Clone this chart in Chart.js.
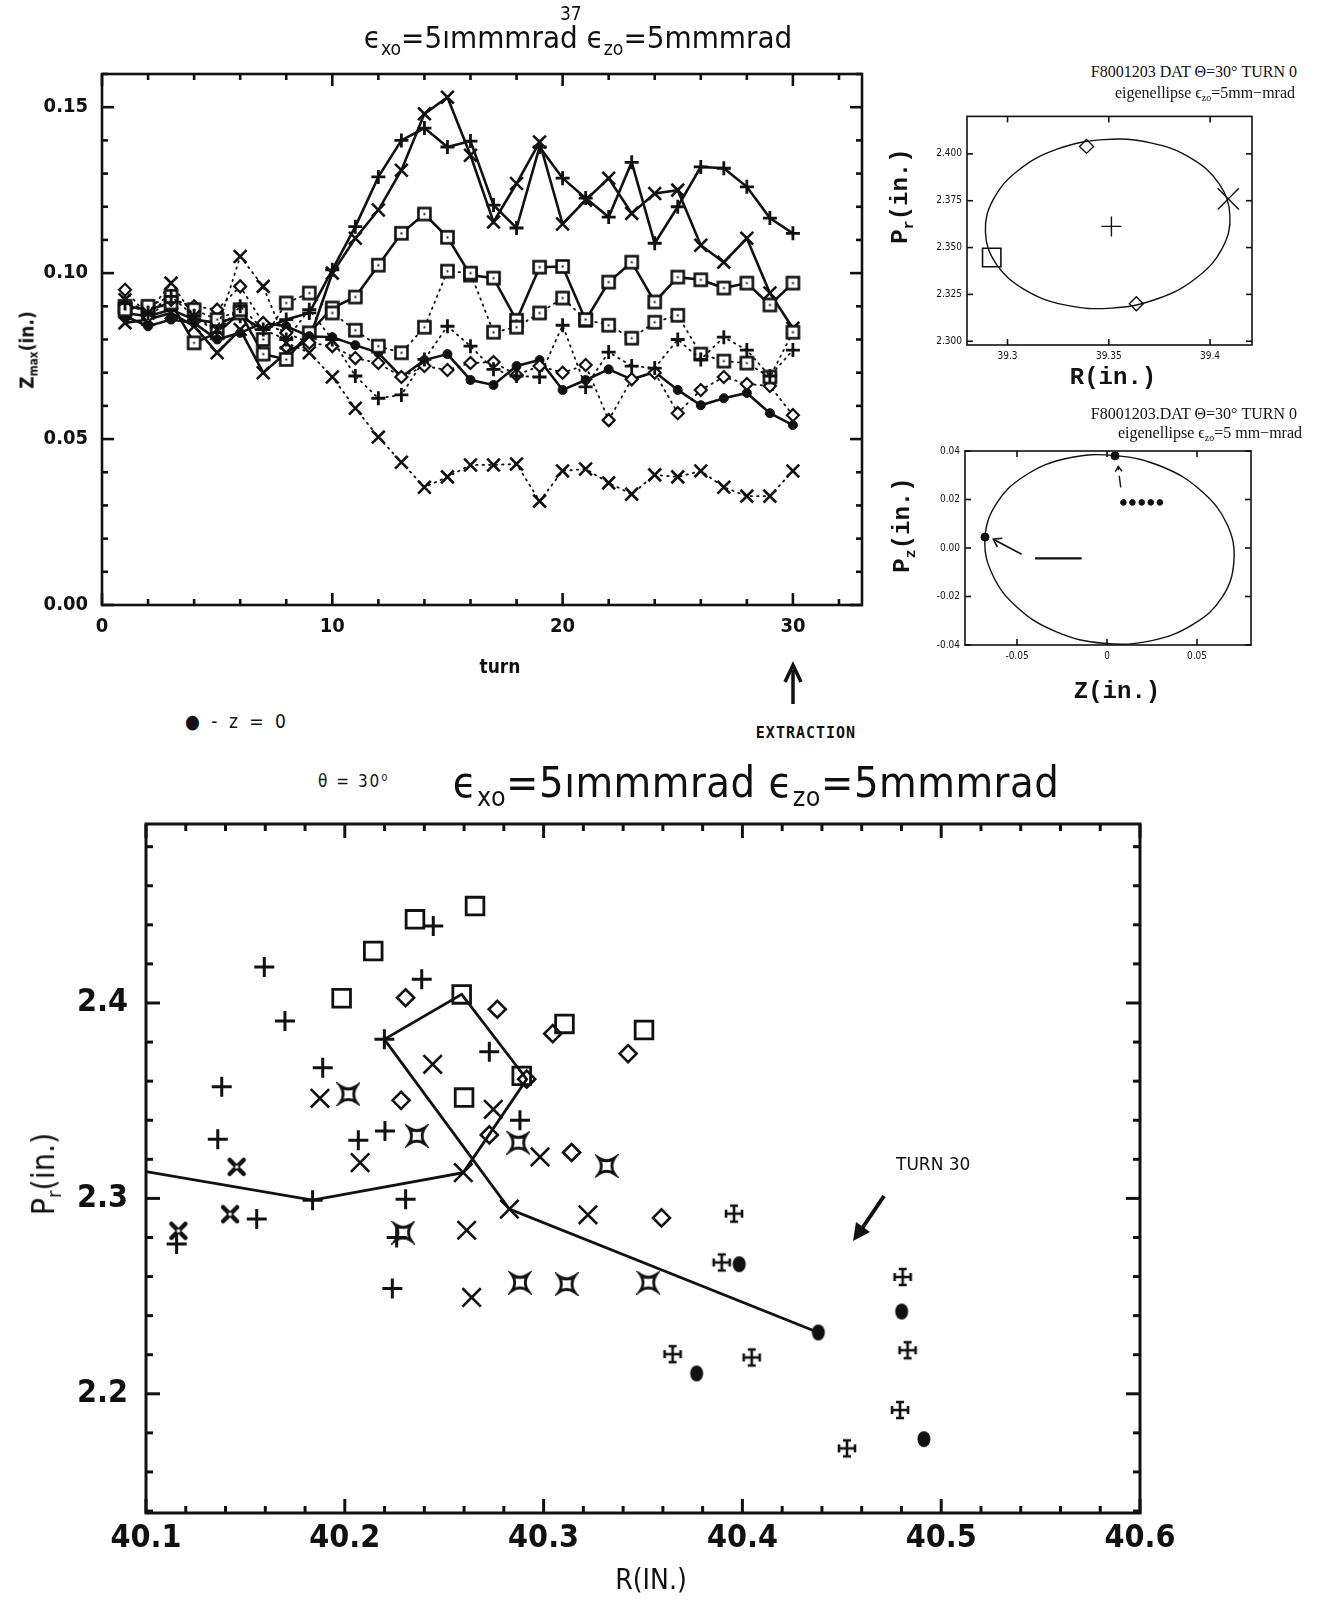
<!DOCTYPE html>
<html><head><meta charset="utf-8">
<script src="https://cdn.jsdelivr.net/npm/chart.js@4.4.1/dist/chart.umd.min.js"></script>
<style>
html,body{margin:0;padding:0;background:#fff}
body{width:1320px;height:1601px;position:relative;overflow:hidden;color:#111;font-family:"DejaVu Sans",sans-serif}
canvas{position:absolute}
.t{position:absolute;white-space:nowrap;line-height:1}
.c{transform:translate(-50%,-50%)}
.r{transform:translate(-50%,-50%) rotate(-90deg)}
.cap{font-family:"DejaVu Sans Condensed","DejaVu Sans",sans-serif}
.serif{font-family:"Liberation Serif",serif}
.mono{font-family:"Liberation Mono",monospace;font-weight:bold}
sub{font-size:62%;vertical-align:-0.35em}
sup{font-size:62%;vertical-align:0.9em}
svg{position:absolute;left:0;top:0}
</style></head><body>
<canvas id="c1" width="880" height="640" style="left:0;top:40px"></canvas>
<canvas id="c2" width="440" height="300" style="left:880px;top:100px"></canvas>
<canvas id="c3" width="440" height="240" style="left:880px;top:440px"></canvas>
<canvas id="c4" width="1320" height="800" style="left:0;top:800px"></canvas>

<div class="t c cap" style="left:578px;top:40px;font-size:31px">ϵ<sub>xo</sub>=5ımmmrad  ϵ<sub>zo</sub>=5mmmrad</div>
<div class="t cap" style="left:560px;top:4px;font-size:19px">37</div>
<div class="t r cap" style="left:29px;top:350px;font-size:19px;font-weight:bold">Z<sub>max</sub>(in.)</div>
<div class="t c cap" style="left:500px;top:666px;font-size:19px;font-weight:bold">turn</div>

<div class="t serif" style="right:23px;top:64px;font-size:16px">F8001203 DAT Θ=30° TURN 0</div>
<div class="t serif" style="right:25px;top:85px;font-size:16px">eigenellipse ϵ<sub>zo</sub>=5mm−mrad</div>
<div class="t r mono" style="left:903px;top:196px;font-size:24px">P<sub>r</sub>(in.)</div>
<div class="t c mono" style="left:1113px;top:378px;font-size:24px">R(in.)</div>

<div class="t serif" style="right:23px;top:406px;font-size:16px">F8001203.DAT Θ=30° TURN 0</div>
<div class="t serif" style="right:18px;top:425px;font-size:16px">eigenellipse ϵ<sub>zo</sub>=5 mm−mrad</div>
<div class="t r mono" style="left:905px;top:525px;font-size:24px">P<sub>z</sub>(in.)</div>
<div class="t c mono" style="left:1117px;top:692px;font-size:24px">Z(in.)</div>

<div class="t c" style="left:806px;top:733px;font-size:15px;letter-spacing:1px;font-weight:bold;font-family:'DejaVu Sans Mono',monospace">EXTRACTION</div>
<div class="t cap" style="left:185px;top:712px;font-size:19px;letter-spacing:3px">● - z = 0</div>
<div class="t cap" style="left:318px;top:773px;font-size:17px;letter-spacing:2px">θ = 30⁰</div>
<div class="t c cap" style="left:756px;top:786px;font-size:43px;letter-spacing:0.5px">ϵ<sub>xo</sub>=5ımmmrad ϵ<sub>zo</sub>=5mmmrad</div>
<div class="t" style="left:896px;top:1156px;font-size:17px;font-family:'DejaVu Sans',sans-serif">TURN 30</div>
<div class="t r cap" style="left:46px;top:1174px;font-size:32px">P<sub>r</sub>(in.)</div>
<div class="t c cap" style="left:651px;top:1580px;font-size:28px">R(IN.)</div>

<svg width="1320" height="1601">
  <line x1="793" y1="704" x2="793" y2="670" stroke="#111" stroke-width="3.5"/>
  <polyline points="785,682 793,665 801,682" fill="none" stroke="#111" stroke-width="3.5"/>
  <line x1="884" y1="1196" x2="861" y2="1230" stroke="#111" stroke-width="4"/>
  <polygon points="853,1241 856,1222 870,1232" fill="#111"/>
</svg>

<script>
// ---------------- Top-left: Zmax vs turn ----------------
const TURNS = [1,2,3,4,5,6,7,8,9,10,11,12,13,14,15,16,17,18,19,20,21,22,23,24,25,26,27,28,29,30];
const PLUS_SOLID = [0.088,0.087,0.089,0.086,0.085,0.087,0.083,0.086,0.088,0.101,0.114,0.129,0.140,0.1437,0.138,0.1398,0.1205,0.1136,0.138,0.1286,0.1226,0.1169,0.1334,0.109,0.120,0.132,0.1316,0.126,0.1166,0.112];
const X_SOLID = [0.085,0.086,0.088,0.084,0.076,0.083,0.070,0.076,0.080,0.100,0.1105,0.119,0.131,0.148,0.153,0.1355,0.1154,0.127,0.1395,0.1148,0.122,0.1286,0.118,0.124,0.125,0.1084,0.1033,0.1105,0.094,0.0834];
const SQ_SOLID = [0.090,0.089,0.091,0.079,0.082,0.088,0.0756,0.074,0.082,0.0895,0.0928,0.1024,0.112,0.1178,0.1108,0.0994,0.0985,0.0858,0.1018,0.102,0.0858,0.0973,0.1033,0.0913,0.0988,0.098,0.0955,0.097,0.0904,0.097];
const DOT_SOLID = [0.087,0.084,0.086,0.085,0.080,0.082,0.085,0.084,0.081,0.0807,0.0783,0.076,0.0687,0.0738,0.0756,0.0678,0.0663,0.072,0.0738,0.0648,0.0678,0.071,0.068,0.0702,0.0648,0.0602,0.0623,0.0639,0.0578,0.0542];
const X_DOTTED = [0.092,0.088,0.097,0.087,0.083,0.105,0.096,0.079,0.076,0.0687,0.0593,0.0506,0.043,0.0355,0.0386,0.0422,0.0422,0.0425,0.0313,0.0404,0.041,0.0368,0.0334,0.0392,0.0386,0.0404,0.0355,0.0328,0.0328,0.0404];
const PLUS_DOTTED = [0.091,0.088,0.093,0.087,0.082,0.090,0.083,0.080,0.089,0.080,0.069,0.0623,0.0633,0.074,0.084,0.078,0.071,0.069,0.0687,0.0843,0.0657,0.0762,0.072,0.0714,0.080,0.074,0.0807,0.0768,0.069,0.0768];
const SQ_DOTTED = [0.089,0.090,0.093,0.089,0.086,0.089,0.080,0.091,0.094,0.088,0.0828,0.078,0.076,0.0837,0.1006,0.100,0.0822,0.0837,0.088,0.0925,0.086,0.0843,0.0804,0.0852,0.0873,0.0756,0.0735,0.0729,0.0687,0.0822];
const DIA_DOTTED = [0.095,0.087,0.092,0.090,0.089,0.096,0.085,0.082,0.079,0.078,0.0744,0.0729,0.0687,0.072,0.0708,0.0729,0.0732,0.0693,0.072,0.070,0.0723,0.0557,0.068,0.070,0.0578,0.0648,0.0687,0.0666,0.066,0.0572];
const TL_X_MAJOR = [0,10,20,30];
const TL_X_MINOR = [2,4,6,8,12,14,16,18,22,24,26,28,32];
const TL_Y_MAJOR = [0,0.05,0.10,0.15];
const TL_Y_MINOR = [0.01,0.02,0.03,0.04,0.06,0.07,0.08,0.09,0.11,0.12,0.13,0.14,0.16];

// ---------------- Top-right 1: Pr vs R eigenellipse (closed loop, read clockwise from the left) ----------------
const ELL_R = [39.2891,39.2930,39.3054,39.3245,39.3475,39.3707,39.3907,39.4045,39.4098,39.4060,39.3935,39.3744,39.3514,39.3282,39.3082,39.2944];
const ELL_PR = [2.3582,2.3757,2.3913,2.4025,2.4076,2.4059,2.3976,2.3840,2.3671,2.3496,2.3340,2.3228,2.3177,2.3194,2.3277,2.3413];
const R1_SQUARE = [{x:39.2922,y:2.3447}];
const R1_DIAMOND = [{x:39.339,y:2.404},{x:39.3636,y:2.320}];
const R1_X = [{x:39.409,y:2.376}];
const R1_CENTER = [{x:39.3513,y:2.3613}];
const TR1_X_MAJOR = [39.3,39.35,39.4];
const TR1_Y_MAJOR = [2.300,2.325,2.350,2.375,2.400];

// ---------------- Top-right 2: Pz vs Z eigenellipse (closed loop) ----------------
const ELL_Z = [-0.0678,-0.0612,-0.0452,-0.0221,0.0047,0.0310,0.0526,0.0667,0.0705,0.0640,0.0480,0.0249,-0.0019,-0.0281,-0.0497,-0.0636];
const ELL_PZ = [0.0041,0.0186,0.0300,0.0370,0.0381,0.0334,0.0234,0.0098,-0.0054,-0.0203,-0.0314,-0.0382,-0.0393,-0.0346,-0.0246,-0.0110];
const Z_DOTS = [{x:-0.0678,y:0.0045},{x:0.0044,y:0.0380}];
const Z_ROW = [{x:0.0091,y:0.0188},{x:0.0141,y:0.0188},{x:0.0193,y:0.0188},{x:0.0243,y:0.0188},{x:0.0294,y:0.0188}];
const Z_BAR = [{x:-0.0400,y:-0.0043},{x:-0.0141,y:-0.0043}];
const Z_ARROW = [{x:-0.0474,y:-0.0026},{x:-0.0632,y:0.0036}];
const Z_DASH = [{x:0.0076,y:0.0250},{x:0.0068,y:0.0298}];
const Z_CARET = [{x:0.0064,y:0.0322},{x:0.0063,y:0.0336}];
const TR2_X_MAJOR = [-0.05,0,0.05];
const TR2_Y_MAJOR = [-0.04,-0.02,0.00,0.02,0.04];

// ---------------- Bottom: Pr vs R(IN.) ----------------
const B_SQUARE = [{x:40.2655,y:2.4496},{x:40.2353,y:2.4428},{x:40.2143,y:2.4266},{x:40.1984,y:2.4024},{x:40.2588,y:2.4044},{x:40.2890,y:2.3627},{x:40.2600,y:2.3516},{x:40.3105,y:2.3893},{x:40.3505,y:2.3862}];
const B_PLUS = [{x:40.2445,y:2.4394},{x:40.1595,y:2.4184},{x:40.2387,y:2.4121},{x:40.1699,y:2.3908},{x:40.2199,y:2.3814},{x:40.2727,y:2.3751},{x:40.1889,y:2.3669},{x:40.1381,y:2.3572},{x:40.2881,y:2.3400},{x:40.1361,y:2.3303},{x:40.2068,y:2.3298},{x:40.2202,y:2.3345},{x:40.1838,y:2.2991},{x:40.1557,y:2.2894},{x:40.2306,y:2.2996},{x:40.2239,y:2.2539},{x:40.1154,y:2.2766},{x:40.2261,y:2.2800}];
const B_X = [{x:40.2442,y:2.3686},{x:40.1875,y:2.3512},{x:40.2747,y:2.3456},{x:40.2077,y:2.3183},{x:40.2982,y:2.3212},{x:40.2596,y:2.3132},{x:40.2828,y:2.2945},{x:40.2613,y:2.2837},{x:40.2638,y:2.2493},{x:40.3223,y:2.2916}];
const B_STAR = [{x:40.2018,y:2.3533},{x:40.2362,y:2.3320},{x:40.2873,y:2.3285},{x:40.2294,y:2.2825},{x:40.2881,y:2.2569},{x:40.3317,y:2.3166},{x:40.3116,y:2.2561},{x:40.3527,y:2.2569}];
const B_BOLDX = [{x:40.1456,y:2.3161},{x:40.1423,y:2.2919},{x:40.1163,y:2.2834}];
const B_DIAMOND = [{x:40.2306,y:2.4027},{x:40.2767,y:2.3968},{x:40.3046,y:2.3843},{x:40.2283,y:2.3502},{x:40.2727,y:2.3325},{x:40.2915,y:2.3610},{x:40.3425,y:2.3741},{x:40.3141,y:2.3235},{x:40.3593,y:2.2900}];
const B_DOT = [{x:40.3984,y:2.2663},{x:40.4382,y:2.2314},{x:40.3770,y:2.2104},{x:40.4801,y:2.2421},{x:40.4913,y:2.1768}];
const B_MALTESE = [{x:40.3958,y:2.2922},{x:40.3896,y:2.2672},{x:40.3649,y:2.2203},{x:40.4047,y:2.2186},{x:40.4806,y:2.2598},{x:40.4831,y:2.2223},{x:40.4793,y:2.1917},{x:40.4526,y:2.1721}];
const B_PATH = [{x:40.1000,y:2.3137},{x:40.1838,y:2.2991},{x:40.2596,y:2.3132},{x:40.2915,y:2.3610},{x:40.2588,y:2.4044},{x:40.2199,y:2.3814},{x:40.2828,y:2.2945},{x:40.4382,y:2.2314}];
const B_X_MAJOR = [40.1,40.2,40.3,40.4,40.5,40.6];
const B_X_MINOR = [40.12,40.14,40.16,40.18,40.22,40.24,40.26,40.28,40.32,40.34,40.36,40.38,40.42,40.44,40.46,40.48,40.52,40.54,40.56,40.58];
const B_Y_MAJOR = [2.2,2.3,2.4];
const B_Y_MINOR = [2.14,2.16,2.18,2.22,2.24,2.26,2.28,2.32,2.34,2.36,2.38,2.42,2.44,2.46,2.48];

// ---------------- helpers ----------------
const INK = '#111';
const frameTicks = {
  id:'frameTicks',
  afterDatasetsDraw(chart, args, o){
    if(!o || !o.xMajor) return;
    const ctx = chart.ctx, a = chart.chartArea, x = chart.scales.x, y = chart.scales.y;
    ctx.save(); ctx.strokeStyle = INK; ctx.lineWidth = o.lw; ctx.lineCap='butt';
    ctx.strokeRect(a.left, a.top, a.right-a.left, a.bottom-a.top);
    const seg=(x1,y1,x2,y2)=>{ctx.beginPath();ctx.moveTo(x1,y1);ctx.lineTo(x2,y2);ctx.stroke();};
    const xs=(vals,len)=>vals.forEach(v=>{const p=x.getPixelForValue(v);seg(p,a.bottom,p,a.bottom-len);seg(p,a.top,p,a.top+len);});
    const ys=(vals,len)=>vals.forEach(v=>{const p=y.getPixelForValue(v);seg(a.left,p,a.left+len,p);seg(a.right,p,a.right-len,p);});
    xs(o.xMajor,o.major); xs(o.xMinor||[],o.minor); ys(o.yMajor,o.major); ys(o.yMinor||[],o.minor);
    ctx.restore();
  }
};
const arrowHeads = {
  id:'arrowHeads',
  afterDatasetsDraw(chart){
    const ctx = chart.ctx;
    chart.data.datasets.forEach((ds,i)=>{
      if(!ds.arrowHead) return;
      const m = chart.getDatasetMeta(i).data; const p=m[m.length-2], q=m[m.length-1];
      const ang = Math.atan2(q.y-p.y, q.x-p.x), L = ds.arrowHead;
      ctx.save(); ctx.strokeStyle=INK; ctx.lineWidth=ds.borderWidth;
      ctx.beginPath(); ctx.moveTo(q.x-L*Math.cos(ang-0.6), q.y-L*Math.sin(ang-0.6)); ctx.lineTo(q.x,q.y);
      ctx.lineTo(q.x-L*Math.cos(ang+0.6), q.y-L*Math.sin(ang+0.6)); ctx.stroke(); ctx.restore();
    });
  }
};
Chart.register(frameTicks, arrowHeads);

// closed smooth loop: wrap one point on each side and hide the two wrap segments
function loopData(xs, ys){
  const n = xs.length, pts = xs.map((v,i)=>({x:v,y:ys[i]}));
  return [pts[n-1], ...pts, pts[0], pts[1]];
}
function loopSegment(n){
  return {borderColor: c => (c.p0DataIndex===0 || c.p0DataIndex===n+1) ? 'rgba(0,0,0,0)' : INK};
}

function mk(size, draw){ const c=document.createElement('canvas'); c.width=c.height=size; const g=c.getContext('2d'); g.strokeStyle=INK; g.fillStyle=INK; draw(g,size/2,size); return c; }
const SQ_DOT = mk(17,(g,c)=>{g.fillStyle='#fff';g.fillRect(2,2,13,13);g.lineWidth=2.6;g.strokeRect(2.5,2.5,12,12);g.fillStyle=INK;g.fillRect(c-1,c-1,2,2);});
const ASTROID = mk(24,(g,c)=>{const r=8;g.lineWidth=2.8;g.lineJoin='miter';g.beginPath();
  g.moveTo(c-r,c-r);g.quadraticCurveTo(c,c-2.5,c+r,c-r);g.quadraticCurveTo(c+2.5,c,c+r,c+r);
  g.quadraticCurveTo(c,c+2.5,c-r,c+r);g.quadraticCurveTo(c-2.5,c,c-r,c-r);g.closePath();g.stroke();});
const BOLDX = mk(22,(g,c)=>{g.lineWidth=4.5;g.lineCap='round';const r=7;g.beginPath();g.moveTo(c-r,c-r);g.lineTo(c+r,c+r);g.moveTo(c+r,c-r);g.lineTo(c-r,c+r);g.stroke();g.fillStyle='#fff';g.fillRect(c-1.5,c-1.5,3,3);});
const MALTESE = mk(22,(g,c)=>{g.lineWidth=2.6;const r=8,b=4;g.beginPath();g.moveTo(c-r,c);g.lineTo(c+r,c);g.moveTo(c,c-r);g.lineTo(c,c+r);
  g.moveTo(c-r,c-b);g.lineTo(c-r,c+b);g.moveTo(c+r,c-b);g.lineTo(c+r,c+b);g.moveTo(c-b,c-r);g.lineTo(c+b,c-r);g.moveTo(c-b,c+r);g.lineTo(c+b,c+r);g.stroke();});
const OVAL = mk(20,(g,c)=>{g.beginPath();g.ellipse(c,c,6.5,8,0,0,Math.PI*2);g.fill();});

function scat(id, o){
  return new Chart(document.getElementById(id), {
    type:'scatter',
    data:{datasets:o.datasets},
    options:{
      responsive:false, animation:false, devicePixelRatio:1,
      layout:{padding:o.pad},
      plugins:{legend:{display:false}, tooltip:{enabled:false}, frameTicks:o.ft},
      elements:{line:{borderColor:INK}, point:{borderColor:INK}},
      scales:{
        x:{type:'linear', min:o.xmin, max:o.xmax, grid:{display:false,drawTicks:false}, border:{display:false},
           ticks:{autoSkip:false, maxRotation:0, padding:o.xpad, font:o.font, color:INK, callback:o.xfmt},
           afterBuildTicks:s=>{s.ticks=o.xt.map(v=>({value:v}));},
           afterFit:s=>{s.height=o.xh; s.paddingLeft=0; s.paddingRight=0;}},
        y:{type:'linear', min:o.ymin, max:o.ymax, grid:{display:false,drawTicks:false}, border:{display:false},
           ticks:{autoSkip:false, padding:o.ypad, font:o.font, color:INK, callback:o.yfmt},
           afterBuildTicks:s=>{s.ticks=o.yt.map(v=>({value:v}));},
           afterFit:s=>{s.width=o.yw; s.paddingTop=0; s.paddingBottom=0;}}
      }
    }
  });
}
const series=(arr)=>TURNS.map((t,i)=>({x:t,y:arr[i]}));
const dotted={showLine:true,borderWidth:1.8,borderDash:[1.5,5],borderCapStyle:'round',borderColor:INK};
const solid={showLine:true,borderWidth:2.6,borderColor:INK};

scat('c1',{
  pad:{left:0,top:34,right:18,bottom:0}, xmin:0, xmax:33, ymin:0, ymax:0.16, xh:75, yw:102, xpad:10, ypad:14,
  xt:TL_X_MAJOR, yt:TL_Y_MAJOR, xfmt:v=>String(v), yfmt:v=>v.toFixed(2),
  font:{family:'"DejaVu Sans Condensed","DejaVu Sans",sans-serif', size:20, weight:'bold'},
  ft:{xMajor:TL_X_MAJOR,xMinor:TL_X_MINOR,yMajor:TL_Y_MAJOR,yMinor:TL_Y_MINOR,major:12,minor:6,lw:2.6},
  datasets:[
    {...dotted,data:series(X_DOTTED),pointStyle:'crossRot',pointRadius:9,pointBorderWidth:2.6},
    {...dotted,data:series(PLUS_DOTTED),pointStyle:'cross',pointRadius:7,pointBorderWidth:2.8},
    {...dotted,data:series(SQ_DOTTED),pointStyle:SQ_DOT},
    {...dotted,data:series(DIA_DOTTED),pointStyle:'rectRot',pointRadius:6,pointBorderWidth:2.2,pointBackgroundColor:'#fff'},
    {...solid,data:series(DOT_SOLID),pointStyle:'circle',pointRadius:4.5,pointBackgroundColor:INK,pointBorderWidth:1},
    {...solid,data:series(SQ_SOLID),pointStyle:SQ_DOT},
    {...solid,data:series(X_SOLID),pointStyle:'crossRot',pointRadius:9,pointBorderWidth:2.6},
    {...solid,data:series(PLUS_SOLID),pointStyle:'cross',pointRadius:7,pointBorderWidth:2.8}
  ]
});

const small={family:'"DejaVu Sans Condensed","DejaVu Sans",sans-serif', size:10};
scat('c2',{
  pad:{left:0,top:13,right:68,bottom:0}, xmin:39.28, xmax:39.4207, ymin:2.298, ymax:2.42, xh:55, yw:87, xpad:5, ypad:5,
  xt:TR1_X_MAJOR, yt:TR1_Y_MAJOR, xfmt:v=>String(+v.toFixed(2)), yfmt:v=>v.toFixed(3), font:small,
  ft:{xMajor:TR1_X_MAJOR,yMajor:TR1_Y_MAJOR,major:6,minor:3,lw:1.6},
  datasets:[
    {showLine:true,data:loopData(ELL_R,ELL_PR),segment:loopSegment(ELL_R.length),borderWidth:1.4,tension:0.4,pointRadius:0},
    {data:R1_SQUARE,pointStyle:'rect',pointRadius:13,pointBorderWidth:1.6,pointBackgroundColor:'rgba(0,0,0,0)'},
    {data:R1_DIAMOND,pointStyle:'rectRot',pointRadius:7,pointBorderWidth:1.4,pointBackgroundColor:'rgba(0,0,0,0)'},
    {data:R1_X,pointStyle:'crossRot',pointRadius:15,pointBorderWidth:1.4},
    {data:R1_CENTER,pointStyle:'cross',pointRadius:10,pointBorderWidth:1.4}
  ]
});

scat('c3',{
  pad:{left:0,top:11,right:69,bottom:0}, xmin:-0.0789, xmax:0.080, ymin:-0.04, ymax:0.04, xh:35, yw:85, xpad:5, ypad:5,
  xt:TR2_X_MAJOR, yt:TR2_Y_MAJOR, xfmt:v=>v===0?'0':v.toFixed(2), yfmt:v=>v.toFixed(2), font:small,
  ft:{xMajor:TR2_X_MAJOR,yMajor:TR2_Y_MAJOR,major:6,minor:3,lw:1.6},
  datasets:[
    {showLine:true,data:loopData(ELL_Z,ELL_PZ),segment:loopSegment(ELL_Z.length),borderWidth:1.4,tension:0.4,pointRadius:0},
    {data:Z_DOTS,pointStyle:'circle',pointRadius:4,pointBackgroundColor:INK},
    {data:Z_ROW,pointStyle:'circle',pointRadius:2.8,pointBackgroundColor:INK},
    {showLine:true,data:Z_BAR,borderWidth:2.2,pointRadius:0},
    {showLine:true,data:Z_ARROW,borderWidth:1.6,pointRadius:0,arrowHead:9},
    {showLine:true,data:Z_DASH,borderWidth:1.4,pointRadius:0},
    {showLine:true,data:Z_CARET,borderWidth:1.4,pointRadius:0,arrowHead:6}
  ]
});

scat('c4',{
  pad:{left:0,top:24,right:180,bottom:0}, xmin:40.1, xmax:40.6, ymin:2.139, ymax:2.4916, xh:87, yw:146, xpad:6, ypad:18,
  xt:B_X_MAJOR, yt:B_Y_MAJOR, xfmt:v=>v.toFixed(1), yfmt:v=>v.toFixed(1),
  font:{family:'"DejaVu Sans Condensed","DejaVu Sans",sans-serif', size:32, weight:'bold'},
  ft:{xMajor:B_X_MAJOR,xMinor:B_X_MINOR,yMajor:B_Y_MAJOR,yMinor:B_Y_MINOR,major:14,minor:7,lw:3},
  datasets:[
    {showLine:true,data:B_PATH,borderWidth:2.8,pointRadius:0},
    {data:B_SQUARE,pointStyle:'rect',pointRadius:12.5,pointBorderWidth:2.8,pointBackgroundColor:'rgba(0,0,0,0)'},
    {data:B_PLUS,pointStyle:'cross',pointRadius:10,pointBorderWidth:3},
    {data:B_X,pointStyle:'crossRot',pointRadius:13,pointBorderWidth:2.6},
    {data:B_STAR,pointStyle:ASTROID},
    {data:B_BOLDX,pointStyle:BOLDX},
    {data:B_DIAMOND,pointStyle:'rectRot',pointRadius:8.5,pointBorderWidth:2.6,pointBackgroundColor:'#fff'},
    {data:B_DOT,pointStyle:OVAL},
    {data:B_MALTESE,pointStyle:MALTESE}
  ]
});
</script>
</body></html>
